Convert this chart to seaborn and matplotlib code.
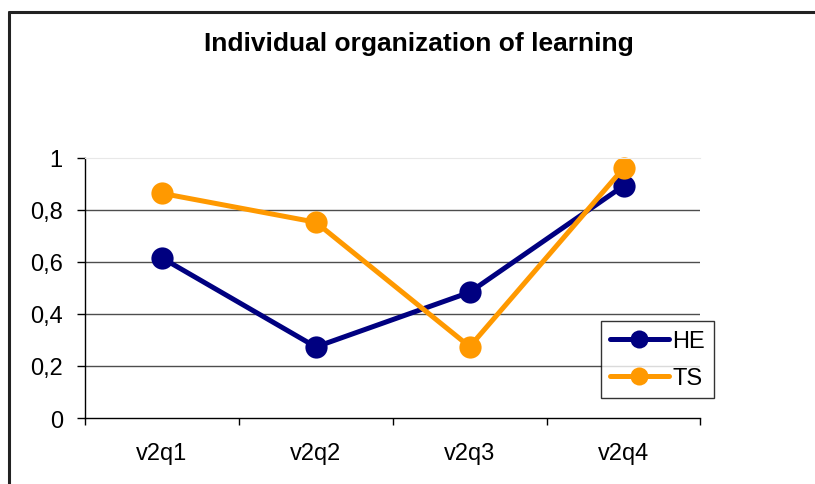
import numpy as np
import pandas as pd
import matplotlib
matplotlib.use("Agg")
import matplotlib.pyplot as plt
import seaborn as sns
from matplotlib.lines import Line2D

# data
questions = ["v2q1", "v2q2", "v2q3", "v2q4"]
he_values = [0.615, 0.273, 0.483, 0.892]
ts_values = [0.863, 0.752, 0.274, 0.960]
series_names = ["HE", "TS"]
y_ticks = [0, 0.2, 0.4, 0.6, 0.8, 1]
y_labels = ["0", "0,2", "0,4", "0,6", "0,8", "1"]

df = pd.DataFrame({
    "question": questions * 2,
    "value": he_values + ts_values,
    "group": ["HE"] * 4 + ["TS"] * 4,
})

sns.set_style("white")
plt.rcParams["font.family"] = ["Liberation Sans", "DejaVu Sans"]
plt.rcParams["text.color"] = "black"
plt.rcParams["xtick.color"] = "black"
plt.rcParams["ytick.color"] = "black"

fig = plt.figure(figsize=(8.15, 4.85), dpi=100)
ax = fig.add_axes([85 / 815, 1 - 419 / 485, 615.5 / 815, 260.3 / 485])

palette = {"HE": "#000080", "TS": "#FF9900"}
sns.lineplot(data=df, x="question", y="value", hue="group", hue_order=series_names,
             palette=palette, marker="o", markersize=16, markeredgewidth=0,
             linewidth=3.6, ax=ax, sort=False, legend=False, clip_on=False)

ax.set_xlim(-0.5, 3.5)
ax.set_ylim(0, 1)
ax.set_xlabel("")
ax.set_ylabel("")

# y axis
ax.set_yticks(y_ticks)
ax.set_yticklabels(y_labels, fontsize=17)
ax.tick_params(axis="y", length=6, width=1, color="black", direction="out", pad=10, left=True)
for y in y_ticks[1:-1]:
    ax.axhline(y, color="#4d4d4d", lw=1, zorder=0)

# x axis: labels centred, tick marks at the boundaries
ax.set_xticks(range(len(questions)))
ax.set_xticklabels(questions, fontsize=17)
ax.set_xticks(np.arange(-0.5, 4.0, 1), minor=True)
ax.tick_params(axis="x", which="major", length=0, pad=17)
ax.tick_params(axis="x", which="minor", length=5, width=1, color="black", direction="out", bottom=True)

for side in ["left", "bottom"]:
    ax.spines[side].set_color("black")
    ax.spines[side].set_linewidth(1)
ax.spines["top"].set_color("#e8e8e8")
ax.spines["right"].set_visible(False)

# title is centred on the whole chart area, not on the plot
fig.text(418.5 / 815, 1 - 44 / 485, "Individual organization of learning", fontsize=19,
         fontweight="bold", color="black", ha="center", va="center")

handles = [Line2D([0], [0], color=palette[n], lw=3.6, marker="o", markersize=13,
                  markeredgewidth=0) for n in series_names]
leg = ax.legend(handles, series_names, loc="lower left", bbox_to_anchor=(0.838, 0.076),
                borderaxespad=0, fontsize=17, frameon=True, fancybox=False,
                handlelength=2.5, handletextpad=0.15, labelspacing=0.65,
                borderpad=0.38)
leg.get_frame().set_edgecolor("black")
leg.get_frame().set_linewidth(1)

# chart-area border (top and left visible)
fig.add_artist(Line2D([9 / 815, 1], [1 - 12.5 / 485] * 2, color="#222222", lw=2.2,
                      transform=fig.transFigure))
fig.add_artist(Line2D([9 / 815] * 2, [0, 1 - 12.5 / 485], color="#222222", lw=2.2,
                      transform=fig.transFigure))

fig.savefig("out.png", dpi=100)
